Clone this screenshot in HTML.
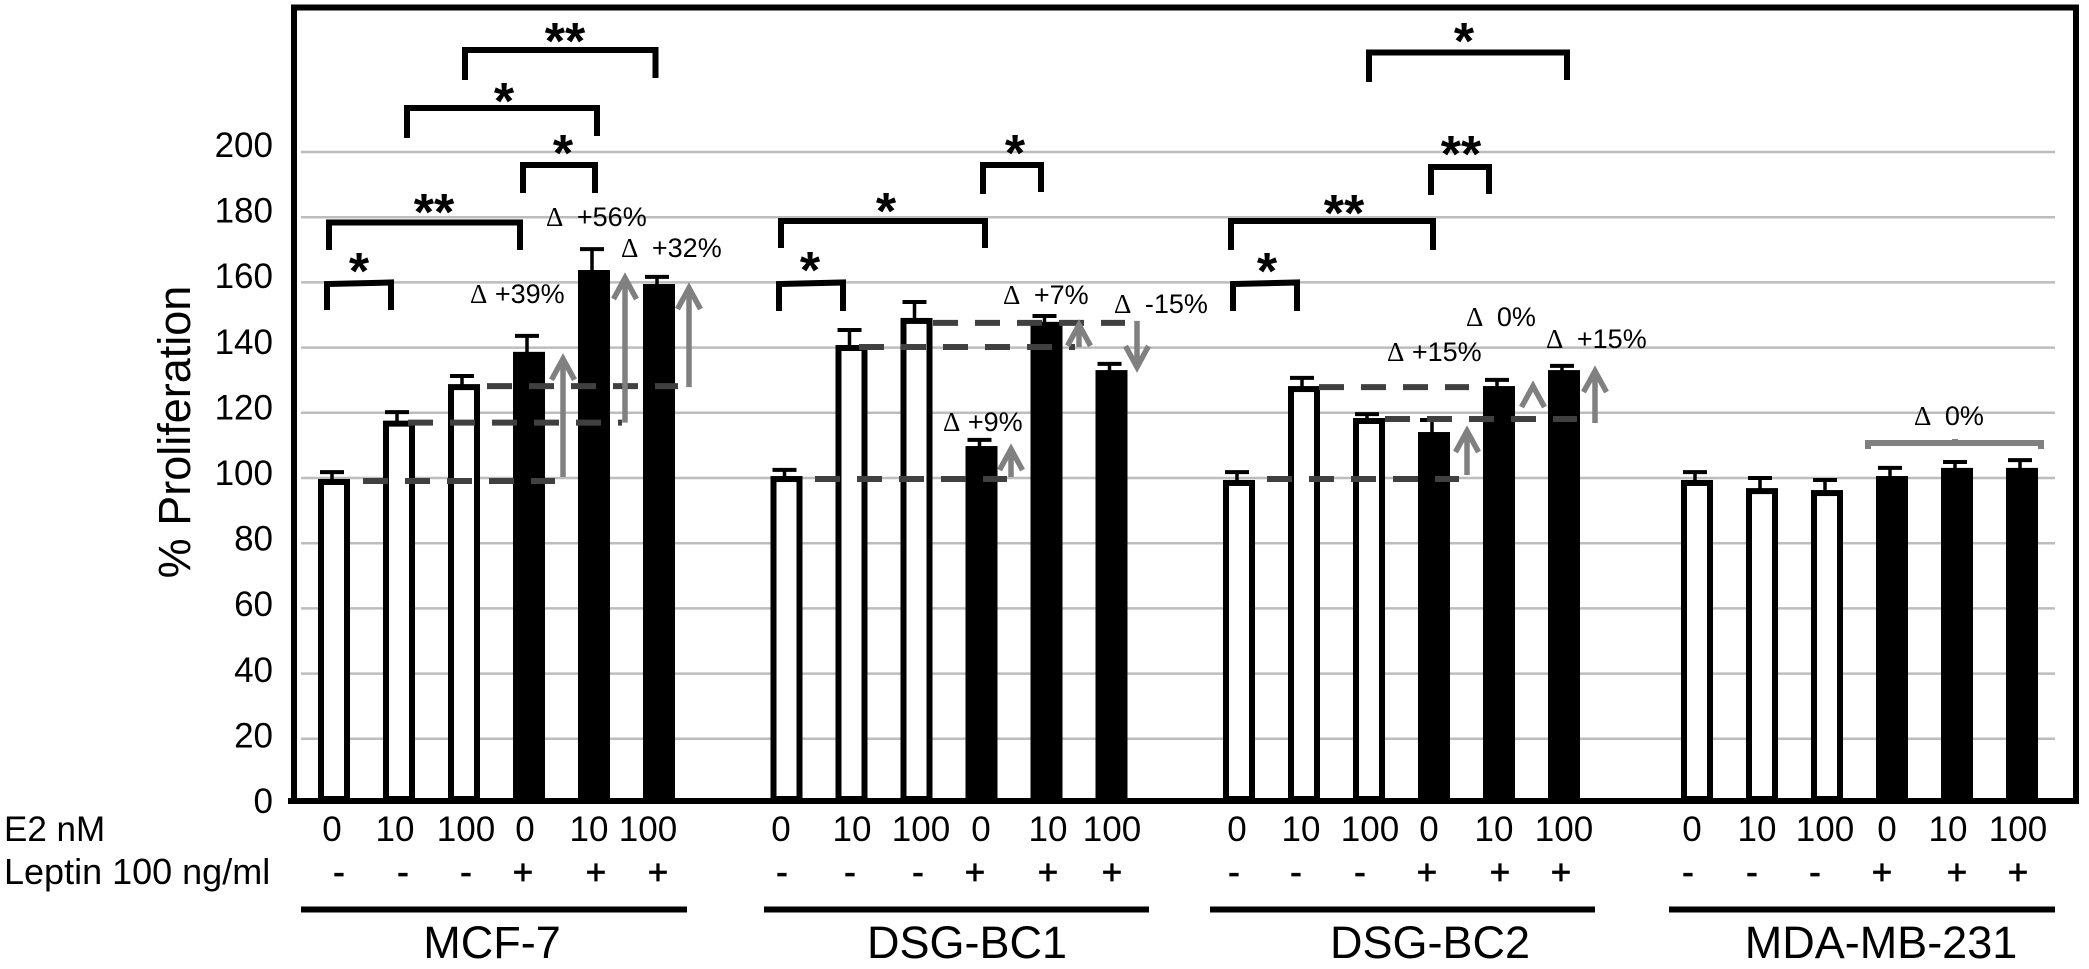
<!DOCTYPE html>
<html lang="en">
<head>
<meta charset="utf-8">
<title>% Proliferation chart</title>
<style>
html,body{margin:0;padding:0;background:#fff;}
svg{display:block;}
text{font-family:"Liberation Sans",sans-serif;fill:#000;}
.tick{font-size:35px;text-anchor:end;}
.row{font-size:35px;text-anchor:middle;}
.star{font-size:52px;font-weight:bold;text-anchor:middle;}
.delta{font-size:27px;}
.delta .sym{font-family:"Liberation Serif",serif;}
.cell{font-size:45px;text-anchor:middle;}
.bracket{fill:none;stroke:#000;stroke-width:6;}
</style>
</head>
<body>
<svg id="chart" xmlns="http://www.w3.org/2000/svg" width="2089" height="969" viewBox="0 0 2089 969">
  <rect width="2089" height="969" fill="#fff"/>
  <g id="grid"></g>
  <g id="bars"></g>
  <g id="refs"></g>
  <g id="arrows"></g>
  <path d="M288 801H2076V7.5H294V804" fill="none" stroke="#000" stroke-width="6"/>
  <g id="ticks"></g>
  <text transform="translate(190 432) rotate(-90)" font-size="45" text-anchor="middle">% Proliferation</text>

  <g>
    <path class="bracket" d="M327 310V284L391 282.5V310"/>
    <path class="bracket" d="M329 250V222.5H520V250"/>
    <path class="bracket" d="M523 193V165H595V193"/>
    <path class="bracket" d="M407 138V108H597V136"/>
    <path class="bracket" d="M465 80V50H655.5V78"/>
    <path class="bracket" d="M779 311V284L843 282.5V311"/>
    <path class="bracket" d="M781 248V221H985V248"/>
    <path class="bracket" d="M983 194V165H1041V192"/>
    <path class="bracket" d="M1233 311V284L1297 282.5V311"/>
    <path class="bracket" d="M1231 250V221H1433V250"/>
    <path class="bracket" d="M1431 195V167H1489V194"/>
    <path class="bracket" d="M1369 82V52.5H1567V80"/>
    <path d="M1868 449V443H2041V449M1955 443V439" fill="none" stroke="#808080" stroke-width="6"/>
  </g>

  <g>
    <text class="star" x="359" y="289">*</text>
    <text class="star" x="434" y="230">**</text>
    <text class="star" x="563" y="171">*</text>
    <text class="star" x="504" y="119">*</text>
    <text class="star" x="565" y="59">**</text>
    <text class="star" x="810" y="288">*</text>
    <text class="star" x="886" y="229">*</text>
    <text class="star" x="1015" y="171">*</text>
    <text class="star" x="1267" y="289">*</text>
    <text class="star" x="1344" y="231">**</text>
    <text class="star" x="1461" y="172">**</text>
    <text class="star" x="1464" y="59">*</text>
  </g>

  <g>
    <text class="delta" x="470" y="303"><tspan class="sym">Δ</tspan> +39%</text>
    <text class="delta" x="546" y="226"><tspan class="sym">Δ</tspan> <tspan dx="6">+56%</tspan></text>
    <text class="delta" x="621" y="257"><tspan class="sym">Δ</tspan> <tspan dx="6">+32%</tspan></text>
    <text class="delta" x="943" y="431"><tspan class="sym">Δ</tspan> +9%</text>
    <text class="delta" x="1003" y="304"><tspan class="sym">Δ</tspan> <tspan dx="6">+7%</tspan></text>
    <text class="delta" x="1114" y="313"><tspan class="sym">Δ</tspan> <tspan dx="6">-15%</tspan></text>
    <text class="delta" x="1387" y="361"><tspan class="sym">Δ</tspan> +15%</text>
    <text class="delta" x="1466" y="326"><tspan class="sym">Δ</tspan> <tspan dx="6">0%</tspan></text>
    <text class="delta" x="1546" y="348"><tspan class="sym">Δ</tspan> <tspan dx="6">+15%</tspan></text>
    <text class="delta" x="1914" y="425"><tspan class="sym">Δ</tspan> <tspan dx="6">0%</tspan></text>
  </g>

  <text class="row" style="text-anchor:start" x="4" y="841">E2 nM</text>
  <text class="row" style="text-anchor:start;font-size:36px" x="4" y="884">Leptin 100 ng/ml</text>

  <g>
    <text class="row" x="332" y="841">0</text>
    <text class="row" x="395" y="841">10</text>
    <text class="row" x="466" y="841">100</text>
    <text class="row" x="525" y="841">0</text>
    <text class="row" x="589" y="841">10</text>
    <text class="row" x="648" y="841">100</text>
    <text class="row" x="781" y="841">0</text>
    <text class="row" x="852" y="841">10</text>
    <text class="row" x="921" y="841">100</text>
    <text class="row" x="981" y="841">0</text>
    <text class="row" x="1048" y="841">10</text>
    <text class="row" x="1112" y="841">100</text>
    <text class="row" x="1237" y="841">0</text>
    <text class="row" x="1301" y="841">10</text>
    <text class="row" x="1370" y="841">100</text>
    <text class="row" x="1429" y="841">0</text>
    <text class="row" x="1494" y="841">10</text>
    <text class="row" x="1564" y="841">100</text>
    <text class="row" x="1692" y="841">0</text>
    <text class="row" x="1757" y="841">10</text>
    <text class="row" x="1825" y="841">100</text>
    <text class="row" x="1887" y="841">0</text>
    <text class="row" x="1948" y="841">10</text>
    <text class="row" x="2018" y="841">100</text>
  </g>

  <g style="stroke:#000;stroke-width:.7">
    <text class="row" x="339" y="884">-</text>
    <text class="row" x="403" y="884">-</text>
    <text class="row" x="466" y="884">-</text>
    <text class="row" x="523" y="884">+</text>
    <text class="row" x="596" y="884">+</text>
    <text class="row" x="658" y="884">+</text>
    <text class="row" x="782" y="884">-</text>
    <text class="row" x="850" y="884">-</text>
    <text class="row" x="918" y="884">-</text>
    <text class="row" x="975" y="884">+</text>
    <text class="row" x="1048" y="884">+</text>
    <text class="row" x="1112" y="884">+</text>
    <text class="row" x="1234" y="884">-</text>
    <text class="row" x="1296" y="884">-</text>
    <text class="row" x="1360" y="884">-</text>
    <text class="row" x="1427" y="884">+</text>
    <text class="row" x="1500" y="884">+</text>
    <text class="row" x="1561" y="884">+</text>
    <text class="row" x="1688" y="884">-</text>
    <text class="row" x="1752" y="884">-</text>
    <text class="row" x="1815" y="884">-</text>
    <text class="row" x="1882" y="884">+</text>
    <text class="row" x="1957" y="884">+</text>
    <text class="row" x="2018" y="884">+</text>
  </g>

  <g>
    <path d="M301 909.5H687" stroke="#000" stroke-width="6"/>
    <path d="M764 909.5H1149" stroke="#000" stroke-width="6"/>
    <path d="M1210 909.5H1595" stroke="#000" stroke-width="6"/>
    <path d="M1669 909.5H2055" stroke="#000" stroke-width="6"/>
    <text class="cell" x="492" y="958">MCF-7</text>
    <text class="cell" x="967" y="958">DSG-BC1</text>
    <text class="cell" x="1430" y="958">DSG-BC2</text>
    <text class="cell" x="1881" y="958">MDA-MB-231</text>
  </g>
</svg>

<script>
const yTicks = [0, 20, 40, 60, 80, 100, 120, 140, 160, 180, 200];
const cellLines = ['mcf7', 'bc1', 'bc2', 'mda'];
const mcf7Values = [99.7, 117.6, 128.8, 138.7, 163.8, 159.5];
const mcf7Errors = [2.1, 2.6, 2.5, 4.9, 6.4, 2.2];
const bc1Values = [100.6, 140.8, 149.1, 109.8, 147.9, 133.1];
const bc1Errors = [1.9, 4.6, 4.9, 1.9, 1.8, 1.9];
const bc2Values = [99.4, 128.2, 118.4, 114.1, 128.2, 133.1];
const bc2Errors = [2.4, 2.5, 1.2, 3.7, 1.9, 1.3];
const mdaValues = [99.4, 96.9, 96.3, 100.6, 103.1, 103.1];
const mdaErrors = [2.4, 3.1, 3.1, 2.5, 1.8, 2.4];
const leptinFlags = [false, false, false, true, true, true];

const allValues = [mcf7Values, bc1Values, bc2Values, mdaValues];
const allErrors = [mcf7Errors, bc1Errors, bc2Errors, mdaErrors];

const NS = 'http://www.w3.org/2000/svg';
const yScale = v => 804 - 3.26 * v;
const xScale = (g, i) => 334 + 452.5 * g + 65 * i + (g === 3 ? 5.5 : 0);
const tickLabelY = v => 813 - 3.28 * v;
const BAR_W = 32;

function add(parent, tag, attrs) {
  const el = document.createElementNS(NS, tag);
  for (const k in attrs) el.setAttribute(k, attrs[k]);
  parent.appendChild(el);
  return el;
}

const gridG = document.getElementById('grid');
const ticksG = document.getElementById('ticks');
yTicks.forEach(t => {
  if (t > 0) {
    const line = add(gridG, 'line', {x1: 301, x2: 2055, y1: yScale(t), y2: yScale(t), stroke: '#bdbdbd', 'stroke-width': 2.5});
    
    
  }
  const label = add(ticksG, 'text', {x: 273, y: tickLabelY(t), class: 'tick'});
  label.textContent = t;
  
  
});

const barsG = document.getElementById('bars');
allValues.forEach((series, g) => {
  series.forEach((v, i) => {
    const cx = xScale(g, i);
    const top = yScale(v);
    const capY = yScale(v + allErrors[g][i]);
    const solid = leptinFlags[i];

    const stem = add(barsG, 'line', {x1: cx - 2, x2: cx - 2, y1: capY, y2: top + 2, stroke: '#000', 'stroke-width': 3.5});
    
    

    const cap = add(barsG, 'line', {x1: cx - 14, x2: cx + 10, y1: capY, y2: capY, stroke: '#000', 'stroke-width': 4});
    
    

    const bar = add(barsG, 'rect', solid
      ? {x: cx - BAR_W / 2, y: top, width: BAR_W, height: yScale(0) - 3 - top, fill: '#000'}
      : {x: cx - BAR_W / 2 + 3, y: top + 3, width: BAR_W - 6, height: yScale(0) - 5 - top - 3, fill: '#fff', stroke: '#000', 'stroke-width': 6});
    
    
  });
});

const refsG = document.getElementById('refs');
function refLine(g, i, dx1, dx2, dy) {
  const y = yScale(allValues[g][i]) + dy;
  const line = add(refsG, 'line', {
    x1: xScale(g, i) + dx1, x2: xScale(g, i) + dx2, y1: y, y2: y,
    stroke: '#404040', 'stroke-width': 6, 'stroke-dasharray': '25 17'
  });
  
  
}
refLine(0, 0, 29, 221, 2);
refLine(0, 1, 9, 223, 2);
refLine(0, 2, 23, 214, 2);
refLine(1, 0, 28.5, 220.5, 3);
refLine(1, 1, 7.5, 223.5, 2);
refLine(1, 2, 16.5, 208.5, 5);
refLine(2, 0, 28, 220, -1);
refLine(2, 1, 15, 165, 1);
refLine(2, 2, 16, 208, 1);

const arrowsG = document.getElementById('arrows');
function arrow(g, fromIdx, toIdx, dx, dyFrom, dyTo) {
  const x = xScale(g, toIdx) + dx;
  const y1 = yScale(allValues[g][fromIdx]) + dyFrom;
  const y2 = yScale(allValues[g][toIdx]) + dyTo;
  const dir = y2 < y1 ? 1 : -1;
  const d = 'M' + x + ' ' + y1 + 'V' + (y2 + dir * 4) +
    'M' + (x - 11.5) + ' ' + (y2 + dir * 24) + 'L' + x + ' ' + (y2 + dir * 3) + 'L' + (x + 11.5) + ' ' + (y2 + dir * 24);
  const p = add(arrowsG, 'path', {d: d, fill: 'none', stroke: '#808080', 'stroke-width': 5.5});
  
  
}
arrow(0, 0, 3, 34, -2, 4);
arrow(0, 1, 4, 31, 2, 5);
arrow(0, 2, 5, 30, 3, 1);
arrow(1, 0, 3, 29.5, 1, 0);
arrow(1, 1, 4, 32.5, 2, 0);
arrow(1, 2, 5, 25.5, 3, 0);
arrow(2, 0, 3, 33, -5, -4);
arrow(2, 1, 4, 34, 1, -3);
arrow(2, 2, 5, 31, 5, -2);
</script>
</body>
</html>
